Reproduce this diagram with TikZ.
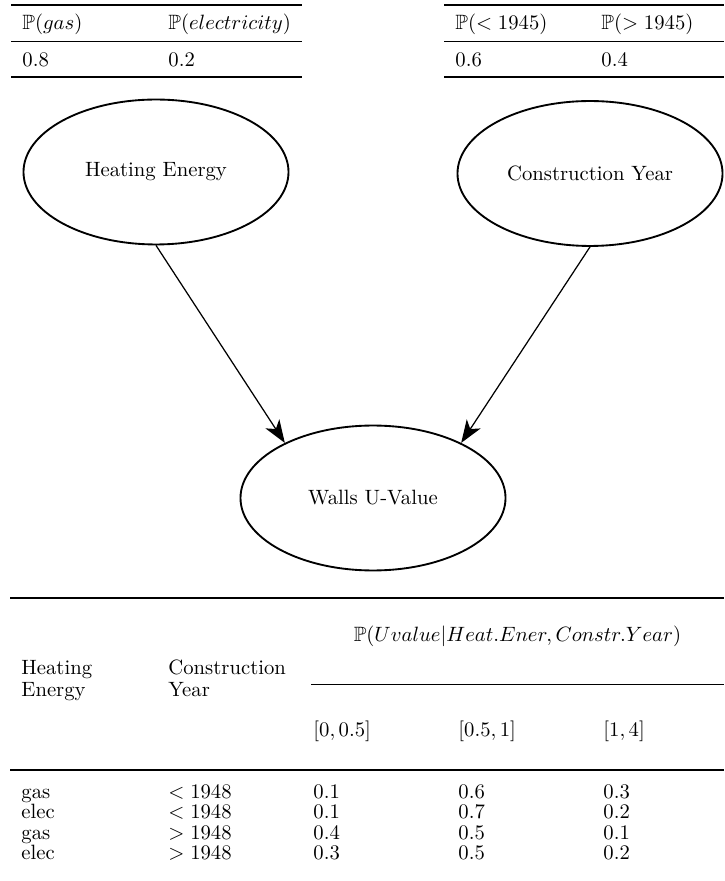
\documentclass[tikz,border=0pt]{standalone}
\usepackage{amssymb}
\usetikzlibrary{arrows.meta,shapes.geometric}
\begin{document}
\begin{tikzpicture}[x=0.483pt,y=-0.483pt,
  txt/.style={anchor=base west,inner sep=0pt},
  ctxt/.style={anchor=base,inner sep=0pt},
  heavy/.style={line width=0.8pt},
  light/.style={line width=0.5pt},
  cmid/.style={line width=0.4pt},
  bnode/.style={draw,ellipse,line width=0.9pt,minimum width=128pt,minimum height=70pt,inner sep=0pt},
  arr/.style={line width=0.6pt,-{Stealth[length=11pt,width=8pt,inset=3pt]}}]
\useasboundingbox (0,0) rectangle (724,881);
% top-left table
\draw[heavy] (11,5) -- (302,5);
\draw[light] (11,41.5) -- (302,41.5);
\draw[heavy] (11,77) -- (302,77);
\node[txt] (pg) at (22,30) {$\mathbb{P}(gas)$};
\node[txt] (pe) at (168,30) {$\mathbb{P}(electricity)$};
\node[txt] (vg) at (22,66.5) {0.8};
\node[txt] (ve) at (168,66.5) {0.2};
% top-right table
\draw[heavy] (444,5) -- (724,5);
\draw[light] (444,41.5) -- (724,41.5);
\draw[heavy] (444,77) -- (724,77);
\node[txt] (pb) at (455,30) {$\mathbb{P}(<1945)$};
\node[txt] (pa) at (601,30) {$\mathbb{P}(>1945)$};
\node[txt] (vb) at (455,66.5) {0.6};
\node[txt] (va) at (601,66.5) {0.4};
% network
\node[bnode] (he) at (156,172) {Heating Energy};
\node[bnode] (cy) at (590,173.5) {Construction Year};
\node[bnode] (wu) at (373,498) {Walls U-Value};
\draw[arr] (he.south) -- (wu.148);
\draw[arr] (cy.south) -- (wu.32);
% bottom table
\draw[heavy] (10,598) -- (724,598);
\draw[cmid] (311,684) -- (724,684);
\draw[light] (10,770) -- (724,770);
\node[ctxt] (hp) at (517.5,641) {$\mathbb{P}(Uvalue|Heat.Ener, Constr.Year)$};
\node[txt] (h1a) at (21,674) {Heating};
\node[txt] (h1b) at (21,696) {Energy};
\node[txt] (h2a) at (168,674) {Construction};
\node[txt] (h2b) at (168,696) {Year};
\node[txt] (i1) at (313,736) {$[0,0.5]$};
\node[txt] (i2) at (458,736) {$[0.5,1]$};
\node[txt] (i3) at (603,736) {$[1,4]$};
\foreach \y/\a/\b/\c/\d/\e [count=\i] in {798/gas/$<1948$/0.1/0.6/0.3, 818.5/elec/$<1948$/0.1/0.7/0.2, 839/gas/$>1948$/0.4/0.5/0.1, 859.5/elec/$>1948$/0.3/0.5/0.2}{
  \node[txt] (ra\i) at (21,\y) {\a};
  \node[txt] (rb\i) at (168,\y) {\b};
  \node[txt] (rc\i) at (313,\y) {\c};
  \node[txt] (rd\i) at (458,\y) {\d};
  \node[txt] (re\i) at (603,\y) {\e};
}
\end{tikzpicture}
\end{document}
